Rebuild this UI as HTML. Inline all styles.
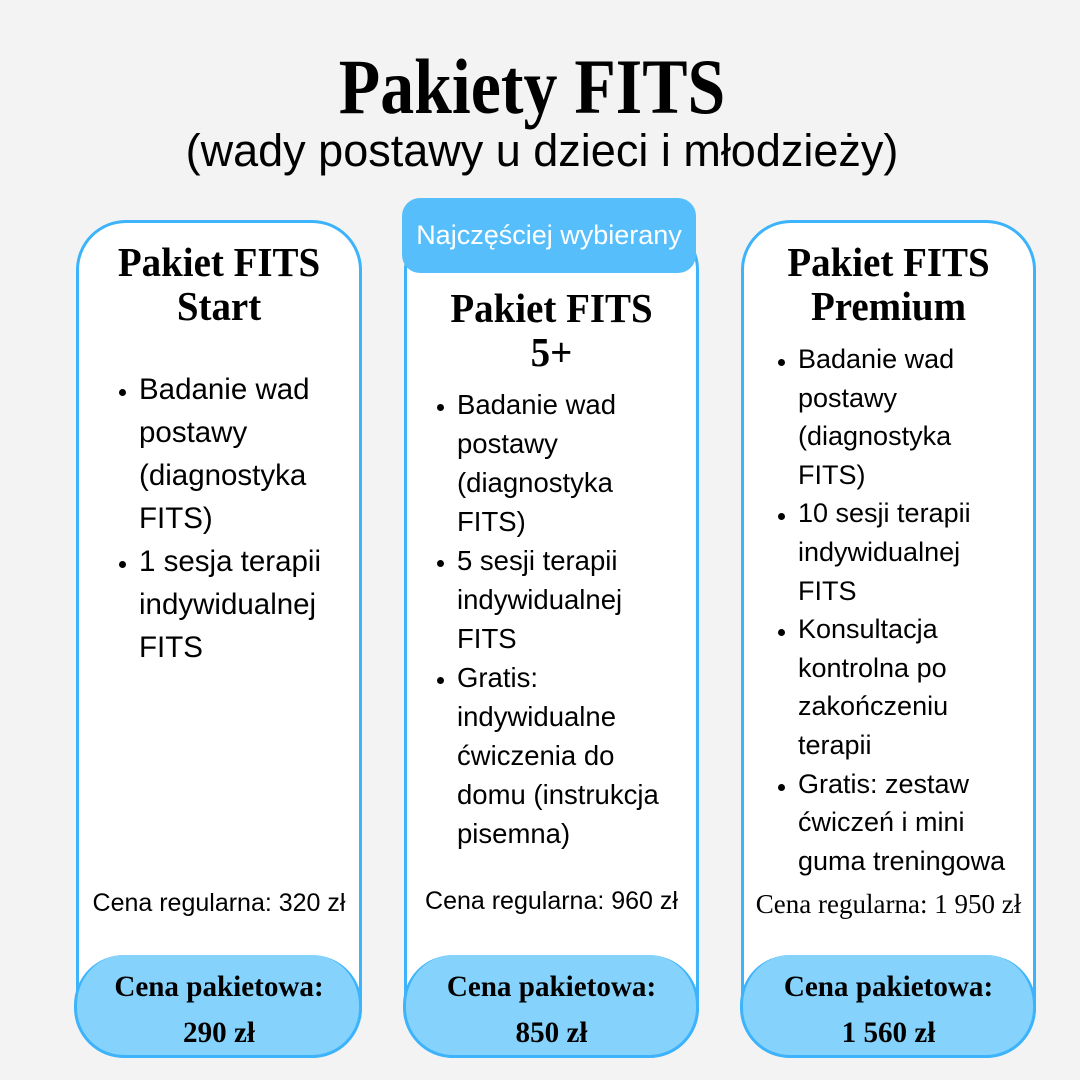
<!DOCTYPE html>
<html><head><meta charset="utf-8"><style>
*{margin:0;padding:0;box-sizing:border-box}
body{width:1080px;height:1080px;background:#f3f3f3;position:relative;overflow:hidden;font-family:"Liberation Sans",sans-serif;color:#000}
.a{position:absolute}
.card{position:absolute;top:220px;height:838px;border:3px solid #3db3fb;border-radius:50px;background:#fff}
.pill{position:absolute;top:955px;height:103px;background:#85d3fc;border:3px solid #3db3fb;border-top:none;border-radius:50px}
.h{position:absolute;font-family:"Liberation Serif",serif;font-weight:bold;text-align:center;transform:scaleX(0.95);}
ul{position:absolute;list-style:none}
li{position:relative}
li:before{content:"";position:absolute;left:-20px;width:7px;height:7px;border-radius:50%;background:#000}
.u1 li:before{top:21px}
.u2 li:before{top:19px}
.u3 li:before{top:19px}
.reg{position:absolute;font-size:25px;text-align:center;white-space:nowrap}
.pt{position:absolute;font-family:"Liberation Serif",serif;font-weight:bold;font-size:30px;text-align:center;line-height:46px;transform:scaleX(0.97)}
</style></head><body>
<div class="a" style="left:0;width:1064px;top:42px;text-align:center;font-family:'Liberation Serif',serif;font-weight:bold;font-size:78px;line-height:90px;transform:scaleX(0.87)">Pakiety FITS</div>
<div class="a" style="left:0;width:1084px;top:124px;text-align:center;font-size:45px;line-height:54px">(wady postawy u dzieci i młodzieży)</div>

<div class="card" style="left:76px;width:286px"></div>
<div class="card" style="left:404px;width:295px"></div>
<div class="card" style="left:741px;width:295px"></div>

<div class="pill" style="left:74px;width:288px"></div>
<div class="pill" style="left:403px;width:296px"></div>
<div class="pill" style="left:740px;width:296px"></div>

<div class="a" style="left:402px;top:198px;width:294px;height:75px;background:#56bffb;border-radius:18px;color:#fff;font-size:27px;text-align:center;line-height:74px;white-space:nowrap">Najczęściej wybierany</div>

<div class="h" style="left:76px;width:286px;top:240px;font-size:41px;line-height:44px">Pakiet FITS<br>Start</div>
<div class="h" style="left:404px;width:295px;top:286px;font-size:41px;line-height:44px">Pakiet FITS<br>5+</div>
<div class="h" style="left:741px;width:295px;top:240px;font-size:41px;line-height:44px">Pakiet FITS<br>Premium</div>

<ul class="u1" style="left:139px;top:368px;font-size:29.5px;line-height:43px;width:205px">
<li>Badanie wad postawy (diagnostyka FITS)</li>
<li>1 sesja terapii indywidualnej FITS</li>
</ul>
<ul class="u2" style="left:457px;top:385px;font-size:27.5px;line-height:39px;width:220px">
<li>Badanie wad postawy (diagnostyka FITS)</li>
<li>5 sesji terapii indywidualnej FITS</li>
<li>Gratis: indywidualne ćwiczenia do domu (instrukcja pisemna)</li>
</ul>
<ul class="u3" style="left:798px;top:340px;font-size:27px;line-height:38.6px;width:222px">
<li>Badanie wad postawy (diagnostyka FITS)</li>
<li>10 sesji terapii indywidualnej FITS</li>
<li>Konsultacja kontrolna po zakończeniu terapii</li>
<li>Gratis: zestaw ćwiczeń i mini guma treningowa</li>
</ul>

<div class="reg" style="left:76px;width:286px;top:889px">Cena regularna: 320 zł</div>
<div class="reg" style="left:404px;width:295px;top:887px">Cena regularna: 960 zł</div>
<div class="reg" style="left:741px;width:295px;top:889px;font-family:'Liberation Serif',serif;font-size:27px">Cena regularna: 1 950 zł</div>

<div class="pt" style="left:76px;width:286px;top:964px">Cena pakietowa:<br>290 zł</div>
<div class="pt" style="left:404px;width:295px;top:964px">Cena pakietowa:<br>850 zł</div>
<div class="pt" style="left:741px;width:295px;top:964px">Cena pakietowa:<br>1 560 zł</div>
</body></html>
